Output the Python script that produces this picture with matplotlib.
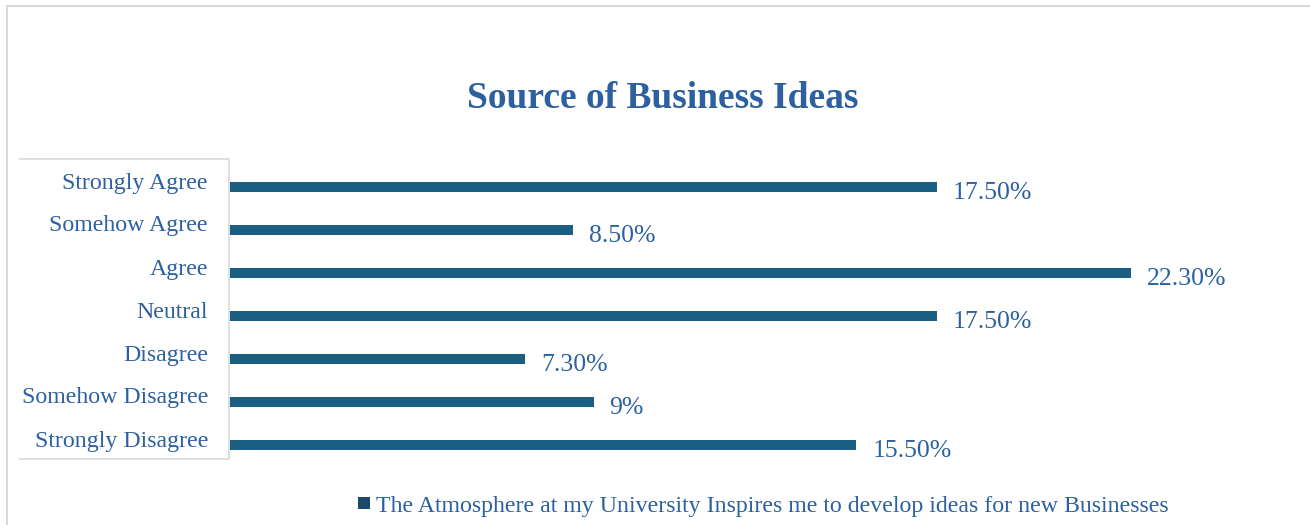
import matplotlib
matplotlib.use("Agg")
import matplotlib.pyplot as plt
from matplotlib.patches import Rectangle
from matplotlib.lines import Line2D

# Survey responses (share of respondents, %)
categories = ["Strongly Disagree", "Somehow Disagree", "Disagree", "Neutral",
              "Agree", "Somehow Agree", "Strongly Agree"]
values = [15.5, 9.0, 7.3, 17.5, 22.3, 8.5, 17.5]
value_labels = ["15.50%", "9%", "7.30%", "17.50%", "22.30%", "8.50%", "17.50%"]
series_name = "The Atmosphere at my University Inspires me to develop ideas for new Businesses"
title = "Source of Business Ideas"

W, H = 1310, 525
DPI = 100
BAR = "#1A5F82"
TEXT = "#2C60A0"
GRID = "#D9D9D9"

plt.rcParams["font.family"] = ["Liberation Serif", "DejaVu Serif"]

fig = plt.figure(figsize=(W / DPI, H / DPI), dpi=DPI)


def fx(px):
    return px / W


def fy(py):
    return 1 - py / H


# plot area: category centres from y=187px (top) to 445px (bottom)
left, right = 230, 1240
top, bottom = 165.5, 466.5
ax = fig.add_axes([fx(left), fy(bottom), fx(right - left), (bottom - top) / H])
ax.set_xlim(0, 25)
ax.set_ylim(-0.5, len(categories) - 0.5)
ax.axis("off")

pos = list(range(len(categories)))
ax.barh(pos, values, height=0.24, color=BAR)

for i, (cat, v, lab) in enumerate(zip(categories, values, value_labels)):
    ax.annotate(cat, xy=(0, i), xycoords=("axes fraction", "data"),
                xytext=(-22 * 0.72, -1.5 * 0.72), textcoords="offset points",
                ha="right", va="baseline", fontsize=17.2, color=TEXT)
    ax.annotate(lab, xy=(v, i), xycoords="data",
                xytext=(16 * 0.72, -12 * 0.72), textcoords="offset points",
                ha="left", va="baseline", fontsize=18.5, color=TEXT)

# frame around the category labels (top, right and bottom edges)
fig.add_artist(Line2D([fx(20), fx(229), fx(229), fx(20)],
                      [fy(159), fy(159), fy(459), fy(459)],
                      transform=fig.transFigure, color=GRID, linewidth=1.2))

# chart area border (top and left edges)
fig.add_artist(Line2D([fx(7), fx(7)], [fy(6), 0], transform=fig.transFigure,
                      color=GRID, linewidth=1.5))
fig.add_artist(Line2D([fx(7), 1], [fy(6), fy(6)], transform=fig.transFigure,
                      color=GRID, linewidth=1.5))

fig.text(fx(663), fy(108), title, ha="center", va="baseline",
         fontsize=27, fontweight="bold", color=TEXT)

# legend
fig.add_artist(Rectangle((fx(358), fy(509)), fx(12), 12 / H,
                         transform=fig.transFigure, facecolor="#1B4B6B",
                         edgecolor="none"))
fig.text(fx(376), fy(512), series_name, ha="left", va="baseline",
         fontsize=17.2, color=TEXT)

fig.savefig("out.png", dpi=DPI, facecolor="white")
